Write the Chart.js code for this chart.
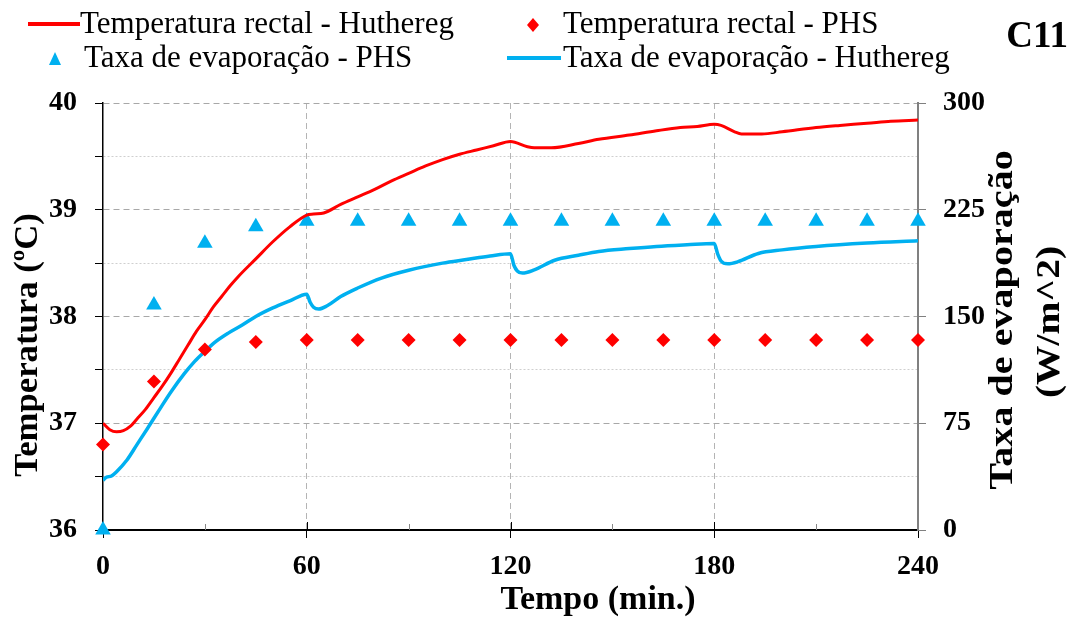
<!DOCTYPE html>
<html>
<head>
<meta charset="utf-8">
<script src="https://cdn.jsdelivr.net/npm/chart.js@4.4.1/dist/chart.umd.min.js"></script>
<style>
  html, body { margin: 0; padding: 0; background: #fff; }
  #wrap { width: 1073px; height: 617px; position: relative; }
</style>
</head>
<body>
<div id="wrap"><canvas id="chart"></canvas></div>
<script>
// Temperatura rectal - Huthereg (line, left axis)
const redTimes = [0, 2, 4, 6, 8, 10, 12.5, 15, 17.5, 20, 22.5, 25, 27.5, 30, 32.5, 35, 37.5, 40, 45, 50, 55, 60,
  62, 65, 70, 75, 80, 85, 90, 95, 100, 105, 110, 115, 120, 125, 127, 132, 140, 146, 155, 163, 170, 175, 180,
  182, 186, 188, 194, 200, 210, 217, 225, 232, 240]
const redTemp = [37.00, 36.94, 36.92, 36.93, 36.97, 37.04, 37.13, 37.24, 37.35, 37.47, 37.60, 37.73, 37.86, 37.97, 38.09, 38.19, 38.29, 38.38, 38.54, 38.70, 38.84, 38.95,
  38.96, 38.97, 39.05, 39.12, 39.19, 39.27, 39.34, 39.41, 39.47, 39.52, 39.56, 39.60, 39.64, 39.59, 39.58, 39.58, 39.62, 39.66, 39.70, 39.74, 39.77, 39.78, 39.80,
  39.79, 39.73, 39.71, 39.71, 39.73, 39.77, 39.79, 39.81, 39.83, 39.84]

// Taxa de evaporação - Huthereg (line, right axis)
const blueTimes = [0, 1, 2.5, 4, 7, 10, 13, 17, 20, 24, 27, 30, 33, 37, 41, 45, 50, 55, 60,
  61, 62, 63.5, 66, 70, 75, 82, 90, 100, 107, 114, 120,
  121, 122, 123.5, 127, 133, 140, 146, 155, 163, 172, 180,
  181, 182, 184, 187, 193, 200, 210, 225, 240]
const blueEvap = [35, 37, 38, 41, 49, 60, 71, 86, 97, 110, 118.5, 125.5, 132, 138.5, 144, 150, 156, 161, 165.7,
  160, 156.5, 155.2, 157.5, 164, 170, 177, 182.5, 187.5, 190, 192.5, 194.1,
  186, 182, 180.5, 182.8, 189.5, 193, 195.7, 197.7, 199.2, 200.4, 201.3,
  194, 189, 187, 188.5, 194.3, 196.8, 199.2, 201.6, 203.2]

// PHS points (every 15 min)
const phsTimes = [0, 15, 30, 45, 60, 75, 90, 105, 120, 135, 150, 165, 180, 195, 210, 225, 240]
const phsTemp = [36.80, 37.39, 37.69, 37.76, 37.78, 37.78, 37.78, 37.78, 37.78, 37.78, 37.78, 37.78, 37.78, 37.78, 37.78, 37.78, 37.78]
const phsEvap = [0, 158, 201.5, 213, 217, 217, 217, 217, 217, 217, 217, 217, 217, 217, 217, 217, 217]

const seriesNames = ['Temperatura rectal - Huthereg', 'Temperatura rectal - PHS', 'Taxa de evaporação - PHS', 'Taxa de evaporação - Huthereg']
const RED = '#ff0000'
const BLUE = '#00b0f0'
const SERIF = "'Liberation Serif', 'Times New Roman', serif"

const toPoints = (xs, ys) => xs.map((x, i) => ({ x, y: ys[i] }))

// text with optional stretch along the writing direction
function drawText(ctx, text, x, y, sx, rot) {
  ctx.save()
  ctx.translate(x, y)
  if (rot) ctx.rotate(rot)
  ctx.scale(sx, 1)
  ctx.fillText(text, 0, 0)
  ctx.restore()
}

// legend, axis titles, inner tick marks
const decorPlugin = {
  id: 'decor',
  afterDraw(chart) {
    const { ctx, chartArea, scales } = chart
    ctx.save()

    // x-axis ticks pointing into the plot
    const xs = scales.x
    for (let t = 30; t < 240; t += 30) {
      const px = Math.round(xs.getPixelForValue(t)) + 0.5
      const major = t % 60 === 0
      ctx.strokeStyle = major ? '#000' : '#888'
      ctx.lineWidth = 1
      ctx.beginPath()
      ctx.moveTo(px, chartArea.bottom)
      ctx.lineTo(px, chartArea.bottom - (major ? 8 : 6))
      ctx.stroke()
    }

    // legend
    const r1 = 25
    const r2 = 59
    ctx.font = `31px ${SERIF}`
    ctx.fillStyle = '#000'
    ctx.textBaseline = 'middle'
    ctx.textAlign = 'left'
    ctx.lineWidth = 4
    ctx.strokeStyle = RED
    ctx.beginPath(); ctx.moveTo(28, r1 - 1); ctx.lineTo(80, r1 - 1); ctx.stroke()
    drawText(ctx, seriesNames[0], 80, r1, 1)
    ctx.fillStyle = RED
    ctx.beginPath()
    ctx.moveTo(533, r1 - 7); ctx.lineTo(539, r1); ctx.lineTo(533, r1 + 7); ctx.lineTo(527, r1); ctx.closePath(); ctx.fill()
    ctx.fillStyle = '#000'
    drawText(ctx, seriesNames[1], 563, r1, 1)
    ctx.fillStyle = BLUE
    ctx.beginPath()
    ctx.moveTo(55, r2 - 7); ctx.lineTo(61, r2 + 6); ctx.lineTo(49, r2 + 6); ctx.closePath(); ctx.fill()
    ctx.fillStyle = '#000'
    drawText(ctx, seriesNames[2], 84, r2, 1)
    ctx.strokeStyle = BLUE
    ctx.beginPath(); ctx.moveTo(507, r2 - 1); ctx.lineTo(561, r2 - 1); ctx.stroke()
    drawText(ctx, seriesNames[3], 563, r2, 1)

    ctx.font = `bold 37px ${SERIF}`
    ctx.textAlign = 'right'
    drawText(ctx, 'C11', 1068, 37, 1)

    // axis titles
    ctx.font = `bold 34px ${SERIF}`
    ctx.textAlign = 'center'
    drawText(ctx, 'Tempo (min.)', 598, 600, 1)
    drawText(ctx, 'Temperatura (ºC)', 28, 345, 1.02, -Math.PI / 2)
    drawText(ctx, 'Taxa de evaporação', 1003, 320, 1.18, -Math.PI / 2)
    drawText(ctx, '(W/m^2)', 1050, 322, 1.16, -Math.PI / 2)

    ctx.restore()
  }
}

const tickFont = { family: SERIF, size: 28, weight: 'bold' }

new Chart(document.getElementById('chart'), {
  data: {
    datasets: [
      {
        type: 'scatter',
        label: seriesNames[2],
        data: toPoints(phsTimes, phsEvap),
        yAxisID: 'y1',
        pointStyle: 'triangle',
        pointRadius: 9,
        pointBackgroundColor: BLUE,
        pointBorderWidth: 0,
        clip: false,
        order: 4,
      },
      {
        type: 'line',
        label: seriesNames[3],
        data: toPoints(blueTimes, blueEvap),
        yAxisID: 'y1',
        borderColor: BLUE,
        borderWidth: 3.5,
        pointRadius: 0,
        cubicInterpolationMode: 'monotone',
        order: 3,
      },
      {
        type: 'scatter',
        label: seriesNames[1],
        data: toPoints(phsTimes, phsTemp),
        yAxisID: 'y',
        pointStyle: 'rectRot',
        pointRadius: 7,
        pointBackgroundColor: RED,
        pointBorderWidth: 0,
        clip: false,
        order: 2,
      },
      {
        type: 'line',
        label: seriesNames[0],
        data: toPoints(redTimes, redTemp),
        yAxisID: 'y',
        borderColor: RED,
        borderWidth: 3,
        pointRadius: 0,
        cubicInterpolationMode: 'monotone',
        order: 1,
      },
    ],
  },
  options: {
    responsive: true,
    maintainAspectRatio: false,
    animation: false,
    layout: { padding: { top: 103, left: 0, right: 0, bottom: 0 } },
    plugins: {
      legend: { display: false },
      tooltip: { enabled: false },
    },
    scales: {
      x: {
        type: 'linear',
        min: 0,
        max: 240,
        afterFit: (s) => { s.height = 87 },
        ticks: {
          stepSize: 30,
          font: tickFont,
          color: '#000',
          padding: 12,
          maxRotation: 0,
          callback: (v) => (v % 60 === 0 ? v : ''),
        },
        grid: {
          color: (c) => (c.tick && c.tick.value % 60 === 0 && c.tick.value > 0 && c.tick.value < 240 ? '#b4b4b4' : 'rgba(0,0,0,0)'),
          tickColor: (c) => (c.tick && c.tick.value % 60 === 0 ? '#000' : 'rgba(0,0,0,0)'),
          tickLength: 8,
          tickBorderDash: [],
          lineWidth: 1,
        },
        border: { color: '#000', width: 2, dash: [6, 4] },
      },
      y: {
        position: 'left',
        min: 36,
        max: 40,
        afterFit: (s) => { s.width = 103 },
        ticks: {
          stepSize: 0.5,
          font: tickFont,
          color: '#000',
          padding: 18,
          callback: (v) => (Number.isInteger(v) ? v : ''),
        },
        grid: {
          color: (c) => (c.tick && Number.isInteger(c.tick.value) ? '#a8a8a8' : '#cfcfcf'),
          tickColor: '#000',
          tickLength: 8,
          tickBorderDash: [],
          lineWidth: 1,
        },
        border: {
          color: '#000',
          width: 1.5,
          dash: (c) => (c.tick && Number.isInteger(c.tick.value) ? [6, 4] : [2, 2]),
        },
      },
      y1: {
        position: 'right',
        min: 0,
        max: 300,
        afterFit: (s) => { s.width = 155 },
        ticks: {
          stepSize: 75,
          font: tickFont,
          color: '#000',
          padding: 17,
        },
        grid: {
          drawOnChartArea: false,
          tickColor: '#808080',
          tickLength: 8,
          lineWidth: 1,
        },
        border: { color: '#808080', width: 2 },
      },
    },
  },
  plugins: [decorPlugin],
})
</script>
</body>
</html>
